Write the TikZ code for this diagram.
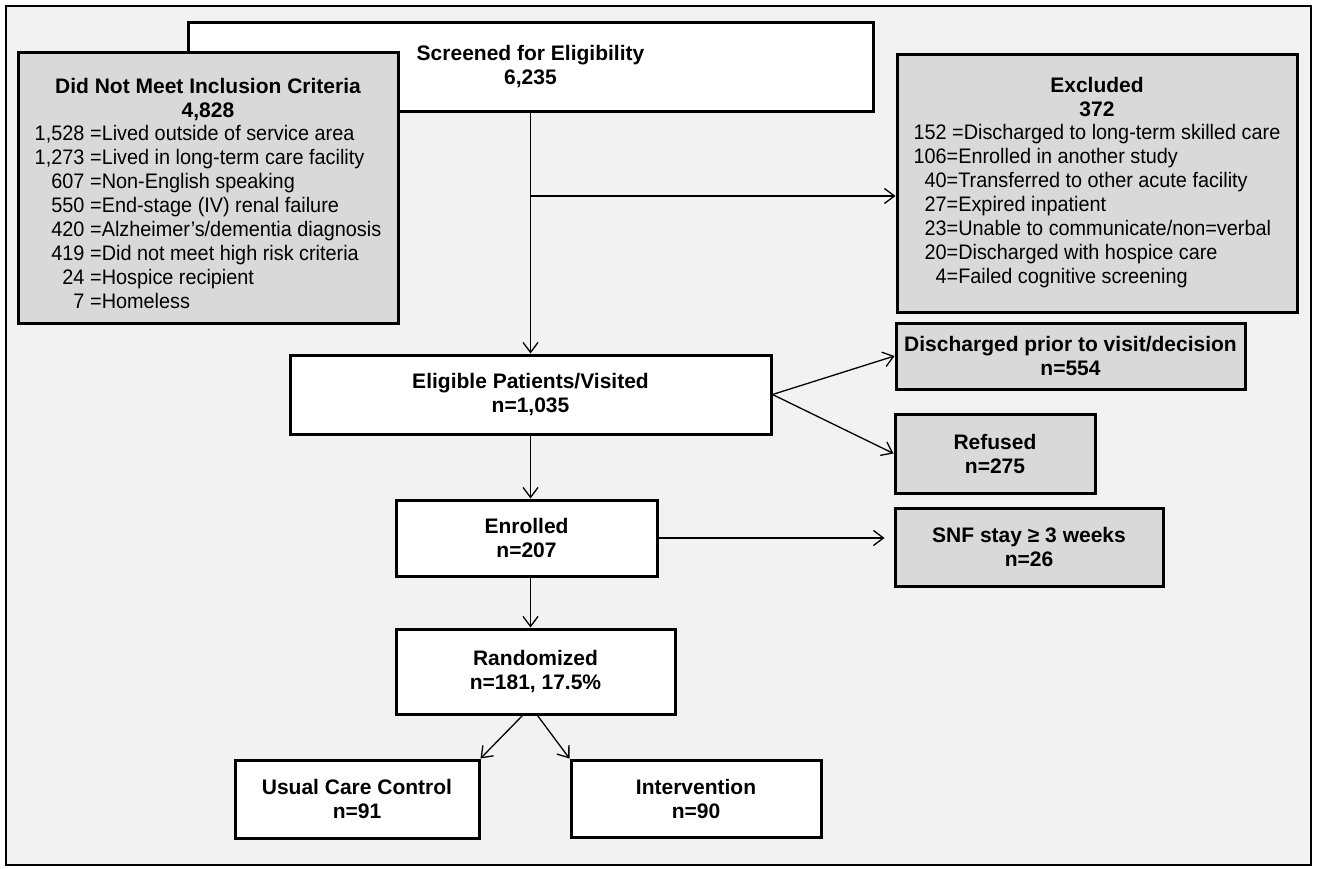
\documentclass[tikz,border=0pt]{standalone}
\usepackage{fontspec}
\usepackage{array}
\setmainfont{Liberation Sans}
\newfontfamily\listfont[FakeStretch=0.945]{Liberation Sans}
\usetikzlibrary{arrows.meta}
\definecolor{panelgray}{HTML}{F2F2F2}
\definecolor{boxgray}{HTML}{D9D9D9}

\begin{document}
\begin{tikzpicture}[x=1pt,y=-1pt]

	\tikzset{
	  whitebox/.style={
		draw,
		fill=white,
		line width=3pt,
		align=center,
		inner sep=0pt,
		font=\fontsize{21}{24}\selectfont\bfseries,
	  },
	  graybox/.style={whitebox, fill=boxgray},
	  flow/.style={-{Straight Barb[length=10pt,width=15pt]}, line width=1.3pt},
	}
	\useasboundingbox (0,0) rectangle (1317,869);
	\draw[line width=2.5pt, fill=panelgray] (6,6) rectangle (1311,865);

	% top row
	\node[whitebox, minimum width=685pt, minimum height=89pt] (screen) at (530.5,67) {Screened for Eligibility\\6,235};
	\node[graybox, minimum width=380pt, minimum height=270pt] (dnm) at (208,188) {%
		\raisebox{-8pt}[\height][\depth]{%
		\begin{tabular}{@{}>{\listfont\mdseries}r@{ }>{\listfont\mdseries}l@{}}
		\multicolumn{2}{@{}c@{}}{Did Not Meet Inclusion Criteria}\\
		\multicolumn{2}{@{}c@{}}{4,828}\\[-1pt]
		1,528 & =Lived outside of service area\\
		1,273 & =Lived in long-term care facility\\
		607 & =Non-English speaking\\
		550 & =End-stage (IV) renal failure\\
		420 & =Alzheimer’s/dementia diagnosis\\
		419 & =Did not meet high risk criteria\\
		24 & =Hospice recipient\\
		7 & =Homeless
		\end{tabular}}};
	\node[graybox, minimum width=400pt, minimum height=257pt] (excl) at (1097,183.5) {%
		\begin{tabular}{@{}>{\listfont\mdseries}r@{}>{\listfont\mdseries}l@{}}
		\multicolumn{2}{@{}c@{}}{Excluded}\\
		\multicolumn{2}{@{}c@{}}{372}\\[-1pt]
		152 & \ =Discharged to long-term skilled care\\
		106 & =Enrolled in another study\\
		40 & =Transferred to other acute facility\\
		27 & =Expired inpatient\\
		23 & =Unable to communicate/non=verbal\\
		20 & =Discharged with hospice care\\
		4 & =Failed cognitive screening
		\end{tabular}};

	% main flow
	\node[whitebox, minimum width=481pt, minimum height=79pt] (elig) at (530.5,394.5) {Eligible Patients/Visited\\n=1,035};
	\node[whitebox, minimum width=261pt, minimum height=76pt] (enrolled) at (526.5,538) {Enrolled\\n=207};
	\node[whitebox, minimum width=279pt, minimum height=85pt] (rand) at (535.5,671.5) {Randomized\\n=181, 17.5\%};
	\node[whitebox, minimum width=244pt, minimum height=78pt] (usual) at (357,799) {Usual Care Control\\n=91};
	\node[whitebox, minimum width=250pt, minimum height=77pt] (interv) at (696,798.5) {Intervention\\n=90};

	% side boxes
	\node[graybox, minimum width=349pt, minimum height=66pt] (disch) at (1070.5,356) {Discharged prior to visit/decision\\n=554};
	\node[graybox, minimum width=200pt, minimum height=79pt] (refused) at (995,453.5) {Refused\\n=275};
	\node[graybox, minimum width=268pt, minimum height=78pt] (snf) at (1029,547) {SNF stay ≥ 3 weeks\\n=26};

	% connectors
	\coordinate (branch) at (530.5,196);
	\draw[flow] (screen.south) -- (elig.north);
	\draw[flow] (branch) -- (branch -| excl.west);
	\draw[flow] (elig.east) -- (disch.west);
	\draw[flow] (elig.east) -- (refused.west);
	\draw[flow] (elig.south) -- (elig.south |- enrolled.north);
	\draw[flow, shorten >=9pt] (enrolled.east) -- (enrolled.east -| snf.west);
	\draw[flow] (elig.south |- enrolled.south) -- (elig.south |- rand.north);
	\draw[flow] ([xshift=-13pt]rand.south) -- (usual.north east);
	\draw[flow] ([xshift=2pt]rand.south) -- (interv.north west);

\end{tikzpicture}
\end{document}
